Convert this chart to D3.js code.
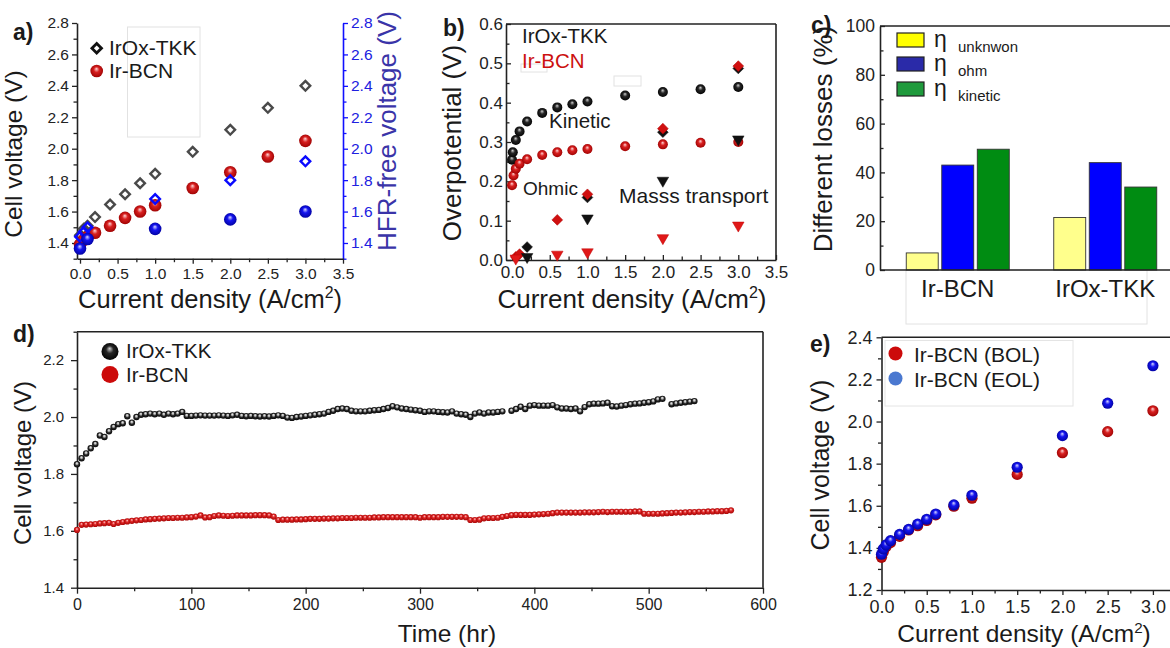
<!DOCTYPE html>
<html>
<head>
<meta charset="utf-8">
<script src="https://cdn.jsdelivr.net/npm/d3@7"></script>
<style>
  body { margin: 0; background: #fff; }
  svg { display: block; }
</style>
</head>
<body>
<svg id="fig" width="1170" height="648"></svg>
<script>
// ---- data: panel a (polarisation + HFR-free voltage)
const aIrOxTKK = [[0,1.45],[0.05,1.49],[0.1,1.51],[0.2,1.565],[0.4,1.645],[0.6,1.71],[0.8,1.78],[1.0,1.84],[1.5,1.98],[2.0,2.12],[2.5,2.26],[3.0,2.40]];
const aIrBCN = [[0,1.39],[0.05,1.42],[0.1,1.44],[0.2,1.465],[0.4,1.51],[0.6,1.56],[0.8,1.60],[1.0,1.64],[1.5,1.75],[2.0,1.85],[2.5,1.95],[3.0,2.05]];
const aIrOxHFR = [[0,1.44],[0.05,1.47],[0.1,1.50],[1.0,1.68],[2.0,1.80],[3.0,1.92]];
const aIrBCNHFR = [[0,1.365],[0.1,1.425],[1.0,1.49],[2.0,1.55],[3.0,1.60]];

// ---- data: panel b (overpotential breakdown)
const bIrOxKinetic = [[0,0.255],[0.01,0.274],[0.05,0.305],[0.1,0.327],[0.2,0.352],[0.4,0.374],[0.6,0.388],[0.8,0.396],[1.0,0.403],[1.5,0.418],[2.0,0.427],[2.5,0.434],[3.0,0.44]];
const bIrBCNKinetic = [[0,0.19],[0.02,0.215],[0.05,0.232],[0.1,0.245],[0.2,0.256],[0.4,0.267],[0.6,0.274],[0.8,0.279],[1.0,0.282],[1.5,0.289],[2.0,0.294],[2.5,0.298],[3.0,0.30]];
const bIrOxOhmic = [[0.2,0.033],[1.0,0.159],[2.0,0.325],[3.0,0.487]];
const bIrBCNOhmic = [[0.05,0.008],[0.1,0.015],[0.6,0.102],[1.0,0.167],[2.0,0.334],[3.0,0.493]];
const bIrOxMass = [[0.2,0.008],[1.0,0.106],[2.0,0.202],[3.0,0.307]];
const bIrBCNMass = [[0.05,0.004],[0.6,0.014],[1.0,0.02],[2.0,0.056],[3.0,0.088]];

// ---- data: panel c (loss contributions, %)
const lossGroups = ['Ir-BCN', 'IrOx-TKK'];
const lossKeys = ['unknwon', 'ohm', 'kinetic'];
const lossUnknown = [7, 21.5];
const lossOhm = [43, 44];
const lossKinetic = [49.5, 34];

// ---- data: panel d (stability, hours vs volts)
const dIrOxTKK = [[0,1.834],[4,1.855],[8,1.872],[12,1.89],[16,1.905],[20,1.935],[24,1.93],[28,1.95],[32,1.965],[36,1.975],[40,1.978],[44,2.003],[48,1.98],[52,2.0],[56,2.008],[60,2.01],[64,2.012],[68,2.01],[72,2.012],[76,2.008],[80,2.012],[84,2.01],[88,2.012],[92,2.018],[96,2.004],[100,2.004],[104,2.005],[108,2.006],[112,2.005],[116,2.005],[120,2.005],[124,2.006],[128,2.005],[132,2.004],[136,2.006],[140,2.008],[144,2.004],[148,2.003],[152,2.004],[156,2.003],[160,2.002],[164,2.003],[168,2.002],[172,2.004],[176,2.006],[180,2.004],[184,1.998],[188,1.997],[192,2.0],[196,2.002],[200,2.004],[204,2.006],[208,2.008],[212,2.01],[216,2.012],[220,2.018],[224,2.022],[228,2.028],[232,2.03],[236,2.028],[240,2.022],[244,2.02],[248,2.02],[252,2.02],[256,2.022],[260,2.024],[264,2.025],[268,2.028],[272,2.032],[276,2.038],[280,2.034],[284,2.03],[288,2.028],[292,2.026],[296,2.024],[300,2.022],[304,2.018],[308,2.02],[312,2.02],[316,2.018],[320,2.017],[324,2.016],[328,2.02],[332,2.012],[336,2.01],[340,2.008],[344,2.0],[348,2.012],[352,2.016],[356,2.012],[360,2.016],[364,2.016],[368,2.018],[372,2.02],[380,2.022],[384,2.028],[388,2.036],[392,2.028],[396,2.04],[400,2.042],[404,2.04],[408,2.04],[412,2.04],[416,2.042],[420,2.034],[424,2.03],[428,2.03],[432,2.028],[436,2.03],[440,2.02],[444,2.035],[448,2.045],[452,2.047],[456,2.047],[460,2.048],[464,2.05],[468,2.038],[472,2.037],[476,2.04],[480,2.042],[484,2.045],[488,2.047],[492,2.048],[496,2.05],[500,2.052],[504,2.055],[508,2.062],[512,2.064],[520,2.045],[524,2.048],[528,2.05],[532,2.052],[536,2.054],[540,2.056]];
const dIrBCN = [[0,1.603],[4,1.621],[8,1.622],[12,1.623],[16,1.624],[20,1.626],[24,1.627],[28,1.628],[32,1.624],[36,1.628],[40,1.631],[44,1.633],[48,1.635],[52,1.637],[56,1.638],[60,1.64],[64,1.641],[68,1.642],[72,1.643],[76,1.644],[80,1.645],[84,1.645],[88,1.646],[92,1.646],[96,1.647],[100,1.648],[104,1.65],[108,1.654],[112,1.647],[116,1.648],[120,1.652],[124,1.654],[128,1.653],[132,1.652],[136,1.653],[140,1.654],[144,1.654],[148,1.654],[152,1.654],[156,1.655],[160,1.655],[164,1.655],[168,1.654],[172,1.65],[176,1.638],[180,1.639],[184,1.639],[188,1.639],[192,1.64],[196,1.64],[200,1.641],[204,1.642],[208,1.642],[212,1.642],[216,1.643],[220,1.643],[224,1.644],[228,1.644],[232,1.645],[236,1.645],[240,1.645],[244,1.646],[248,1.646],[252,1.646],[256,1.646],[260,1.647],[264,1.647],[268,1.648],[272,1.648],[276,1.648],[280,1.648],[284,1.648],[288,1.648],[292,1.648],[296,1.648],[300,1.646],[304,1.648],[308,1.648],[312,1.648],[316,1.648],[320,1.649],[324,1.649],[328,1.649],[332,1.649],[336,1.649],[340,1.648],[344,1.638],[348,1.638],[352,1.639],[356,1.644],[360,1.645],[364,1.645],[368,1.646],[372,1.649],[376,1.652],[380,1.655],[384,1.656],[388,1.656],[392,1.656],[396,1.656],[400,1.657],[404,1.658],[408,1.659],[412,1.66],[416,1.662],[420,1.664],[424,1.664],[428,1.664],[432,1.664],[436,1.664],[440,1.664],[444,1.665],[448,1.665],[452,1.665],[456,1.666],[460,1.667],[464,1.666],[468,1.667],[472,1.667],[476,1.667],[480,1.667],[484,1.667],[488,1.668],[492,1.668],[496,1.66],[500,1.66],[504,1.66],[508,1.66],[512,1.661],[516,1.662],[520,1.663],[524,1.664],[528,1.664],[532,1.665],[536,1.666],[540,1.666],[544,1.667],[548,1.667],[552,1.668],[556,1.668],[560,1.669],[564,1.669],[568,1.67],[572,1.672]];

// ---- data: panel e (BOL vs EOL polarisation)
const eCurrent = [0, 0.02, 0.05, 0.1, 0.2, 0.3, 0.4, 0.5, 0.6, 0.8, 1.0, 1.5, 2.0, 2.5, 3.0];
const eBOL = [1.355, 1.38, 1.405, 1.425, 1.455, 1.485, 1.505, 1.53, 1.557, 1.598, 1.636, 1.749, 1.852, 1.952, 2.051];
const eEOL = [1.37, 1.395, 1.414, 1.434, 1.464, 1.488, 1.513, 1.536, 1.561, 1.604, 1.65, 1.783, 1.933, 2.087, 2.265];

const FONT = '"Liberation Sans", Arial, Helvetica, sans-serif';
const INK = '#1a1a1a';
const svg = d3.select('#fig');

// sphere-like markers
const defs = svg.append('defs');
function ballGrad(id, stops) {
  const g = defs.append('radialGradient').attr('id', id)
    .attr('cx', '50%').attr('cy', '50%').attr('r', '55%').attr('fx', '48%').attr('fy', '32%');
  stops.forEach(s => g.append('stop').attr('offset', s[0]).attr('stop-color', s[1]));
}
ballGrad('redBall', [['0%', '#ffd6d6'], ['40%', '#d82020'], ['100%', '#9a0000']]);
ballGrad('blueBall', [['0%', '#d8d8ff'], ['40%', '#1414f0'], ['100%', '#00009a']]);
ballGrad('blackBall', [['0%', '#d0d0d0'], ['40%', '#262626'], ['100%', '#000']]);
ballGrad('blackRing', [['0%', '#f4f4f4'], ['28%', '#b0b0b0'], ['55%', '#2a2a2a'], ['100%', '#000']]);
ballGrad('redRing', [['0%', '#ffd0d0'], ['40%', '#e02828'], ['100%', '#a00000']]);

function text(x, y, str, o = {}) {
  const t = svg.append('text').attr('x', x).attr('y', y).text(str)
    .style('font-family', FONT).style('font-size', (o.size || 20) + 'px')
    .attr('fill', o.color || INK).attr('text-anchor', o.anchor || 'start');
  if (o.bold) t.style('font-weight', 'bold');
  if (o.rotate) t.attr('transform', `rotate(-90 ${x} ${y})`);
  return t;
}
function currentTitle(x, y, size) {
  const t = svg.append('text').attr('x', x).attr('y', y).attr('text-anchor', 'middle')
    .style('font-family', FONT).style('font-size', size + 'px').attr('fill', INK);
  t.append('tspan').text('Current density (A/cm');
  t.append('tspan').text('2').attr('dy', -size * 0.38).style('font-size', (size * 0.62) + 'px');
  t.append('tspan').text(')').attr('dy', size * 0.38);
}
function line(x1, y1, x2, y2, color = '#222', w = 1.6) {
  svg.append('line').attr('x1', x1).attr('y1', y1).attr('x2', x2).attr('y2', y2)
    .attr('stroke', color).attr('stroke-width', w);
}
function faintBox(x, y, w, h) {
  svg.append('rect').attr('x', x).attr('y', y).attr('width', w).attr('height', h)
    .attr('fill', 'none').attr('stroke', '#e2e2e2').attr('stroke-width', 1);
}

const f1 = d3.format('.1f');
function drawAxis(type, scale, majors, minors, o) {
  const maker = {left: d3.axisLeft, right: d3.axisRight, bottom: d3.axisBottom}[type];
  const dir = o.inward ? -1 : 1;
  const g = svg.append('g').attr('transform', o.at);
  if (minors) {
    g.append('g').call(maker(scale).tickValues(minors).tickFormat('').tickSize(dir * (o.minor || 3.5)).tickSizeOuter(0))
      .select('.domain').remove();
  }
  g.append('g').call(maker(scale).tickValues(majors).tickFormat(o.format || f1)
    .tickSize(dir * (o.size || 6)).tickSizeOuter(0).tickPadding(o.pad || 3));
  const c = o.color || '#222';
  g.selectAll('.domain').attr('stroke', c).attr('stroke-width', 1.6);
  g.selectAll('.tick line').attr('stroke', c).attr('stroke-width', 1.3);
  g.selectAll('.tick text').attr('fill', o.textColor || c)
    .style('font-size', (o.fs || 16) + 'px').style('font-family', FONT);
  return g;
}

function balls(data, xs, ys, r, fill) {
  svg.append('g').selectAll('circle').data(data).join('circle')
    .attr('cx', d => xs(d[0])).attr('cy', d => ys(d[1])).attr('r', r)
    .attr('fill', fill);
}
function symbols(data, xs, ys, type, size, rot, fill, stroke, sw) {
  svg.append('g').selectAll('path').data(data).join('path')
    .attr('d', d3.symbol().type(type).size(size))
    .attr('transform', d => `translate(${xs(d[0])},${ys(d[1])}) rotate(${rot})`)
    .attr('fill', fill).attr('stroke', stroke).attr('stroke-width', sw);
}

// ================= panel a =================
const aX = d3.scaleLinear().domain([-0.04, 3.5]).range([77, 343]);
const aY = d3.scaleLinear().domain([1.3, 2.8]).range([258.7, 23]);
const aYTicks = [1.4, 1.6, 1.8, 2.0, 2.2, 2.4, 2.6, 2.8];
const aYMinor = [1.3, 1.5, 1.7, 1.9, 2.1, 2.3, 2.5, 2.7];
const curTicks = [0, 0.5, 1, 1.5, 2, 2.5, 3, 3.5];
const curMinor = [0.25, 0.75, 1.25, 1.75, 2.25, 2.75, 3.25];

faintBox(127.5, 27, 72.5, 110);
drawAxis('left', aY, aYTicks, aYMinor, {at: 'translate(77,0)', fs: 15.5, size: 5, pad: 3});
drawAxis('right', aY, aYTicks, aYMinor, {at: 'translate(343,0)', fs: 15.5, size: 5, pad: 3, color: '#1010ff', textColor: '#2020e0'});
drawAxis('bottom', aX, curTicks, curMinor, {at: 'translate(0,258.7)', fs: 15.5, size: 5, pad: 4});

symbols(aIrOxTKK, aX, aY, d3.symbolSquare, 46, 45, 'none', '#4a4a4a', 2.4);
balls(aIrBCN, aX, aY, 6.3, 'url(#redBall)');
symbols(aIrOxHFR, aX, aY, d3.symbolSquare, 46, 45, 'none', '#0a0aff', 2.4);
balls(aIrBCNHFR, aX, aY, 6.3, 'url(#blueBall)');

symbols([[0, 0]], () => 96.7, () => 48.3, d3.symbolSquare, 46, 45, 'none', '#111', 2.8);
svg.append('circle').attr('cx', 96.7).attr('cy', 71).attr('r', 6.3).attr('fill', 'url(#redBall)');
text(109, 55, 'IrOx-TKK', {size: 21});
text(109, 78, 'Ir-BCN', {size: 21});

text(13, 40, 'a)', {size: 23, bold: true});
text(22, 154, 'Cell voltage (V)', {size: 24.5, rotate: true, anchor: 'middle'});
text(396, 131, 'HFR-free voltage (V)', {size: 26, rotate: true, anchor: 'middle', color: '#3a34a8'});
currentTitle(210, 308, 25.5);

// ================= panel b =================
const bX = d3.scaleLinear().domain([-0.08, 3.5]).range([506, 776]);
const bY = d3.scaleLinear().domain([0, 0.6]).range([260, 24]);
drawAxis('left', bY, [0, 0.1, 0.2, 0.3, 0.4, 0.5, 0.6], [0.05, 0.15, 0.25, 0.35, 0.45, 0.55],
  {at: 'translate(506,0)', fs: 17, size: 5, pad: 3, inward: true});
drawAxis('bottom', bX, curTicks, curMinor, {at: 'translate(0,260)', fs: 17, size: 5, pad: 6, inward: true});
line(506, 24, 776, 24);
line(776, 24, 776, 260);

faintBox(521, 64, 26, 8);
faintBox(614, 76, 27, 10);

balls(bIrOxKinetic, bX, bY, 5, 'url(#blackBall)');
balls(bIrBCNKinetic, bX, bY, 5, 'url(#redBall)');
symbols(bIrOxOhmic, bX, bY, d3.symbolSquare, 58, 45, '#111', '#111', 0.5);
symbols(bIrBCNOhmic, bX, bY, d3.symbolSquare, 58, 45, '#d01010', '#b00000', 0.5);
symbols(bIrOxMass, bX, bY, d3.symbolTriangle, 58, 180, '#111', '#111', 0.5);
symbols(bIrBCNMass, bX, bY, d3.symbolTriangle, 58, 180, '#e01818', '#c00000', 0.5);

text(522, 43, 'IrOx-TKK', {size: 20.5});
text(522, 68, 'Ir-BCN', {size: 20.5, color: '#cc1010'});
text(549, 128, 'Kinetic', {size: 20.5});
text(523, 195, 'Ohmic', {size: 19});
text(619, 203, 'Masss transport', {size: 21});

text(443, 36, 'b)', {size: 23, bold: true});
text(461, 143, 'Overpotential (V)', {size: 26, rotate: true, anchor: 'middle'});
currentTitle(632, 308, 26);

// ================= panel c =================
const cX0 = d3.scaleBand().domain(lossGroups).range([884, 1179]);
const cX1 = d3.scaleBand().domain(lossKeys).range([0, 103]).paddingInner(0.1);
const cY = d3.scaleLinear().domain([0, 100]).range([270, 26]);
const lossValues = {unknwon: lossUnknown, ohm: lossOhm, kinetic: lossKinetic};
const barColor = {unknwon: '#ffff8c', ohm: '#0000ff', kinetic: '#008c12'};
const legColor = {unknwon: '#ffff00', ohm: '#2a2aa8', kinetic: '#1f9a3c'};
const bars = [];
lossGroups.forEach((g, gi) => lossKeys.forEach(k => bars.push({g, k, v: lossValues[k][gi]})));

faintBox(906, 270, 241, 54);
svg.append('g').selectAll('rect').data(bars).join('rect')
  .attr('x', d => cX0(d.g) + cX0.bandwidth() / 2 - 51.5 + cX1(d.k))
  .attr('width', cX1.bandwidth())
  .attr('y', d => cY(d.v)).attr('height', d => cY(0) - cY(d.v))
  .attr('fill', d => barColor[d.k]).attr('stroke', '#333').attr('stroke-width', 0.9);

drawAxis('left', cY, [0, 20, 40, 60, 80, 100], [10, 30, 50, 70, 90],
  {at: 'translate(880,0)', fs: 17.5, size: 5, pad: 5, inward: true, format: d3.format('d')});
line(880, 26, 1170, 26);
line(880, 270, 1170, 270);

lossGroups.forEach(g => text(cX0(g) + cX0.bandwidth() / 2, 297, g, {size: 24, anchor: 'middle'}));

const legY = [33, 57, 82];
lossKeys.forEach((k, i) => {
  svg.append('rect').attr('x', 897).attr('y', legY[i]).attr('width', 27).attr('height', 14)
    .attr('fill', legColor[k]).attr('stroke', '#222').attr('stroke-width', 1.2);
  text(934, legY[i] + 14, 'η', {size: 23});
  text(958, legY[i] + 19, k, {size: 15});
});

text(811, 33, 'c)', {size: 23, bold: true});
text(832, 139, 'Different losses (%)', {size: 26, rotate: true, anchor: 'middle'});

// ================= panel d =================
const dX = d3.scaleLinear().domain([0, 600]).range([77, 763]);
const dY = d3.scaleLinear().domain([1.4, 2.3]).range([587.7, 331.7]);
drawAxis('left', dY, [1.4, 1.6, 1.8, 2.0, 2.2], [1.5, 1.7, 1.9, 2.1, 2.3],
  {at: 'translate(77,0)', fs: 15, size: 6, pad: 7});
drawAxis('bottom', dX, [0, 100, 200, 300, 400, 500, 600], [50, 150, 250, 350, 450, 550],
  {at: 'translate(0,587.7)', fs: 16, size: 6, pad: 5, format: d3.format('d')});
line(77, 331.7, 763, 331.7);
line(763, 331.7, 763, 587.7);

balls(dIrOxTKK, dX, dY, 3.2, 'url(#blackRing)');
balls(dIrBCN, dX, dY, 3.1, 'url(#redRing)');

svg.append('circle').attr('cx', 110).attr('cy', 351.5).attr('r', 8.5).attr('fill', 'url(#blackBall)');
svg.append('circle').attr('cx', 110).attr('cy', 374.5).attr('r', 8.5).attr('fill', '#cc0a0a');
text(126, 358, 'IrOx-TKK', {size: 20.5});
text(126, 382, 'Ir-BCN', {size: 20.5});

text(13, 342, 'd)', {size: 23, bold: true});
text(31, 463, 'Cell voltage (V)', {size: 24, rotate: true, anchor: 'middle'});
text(447, 642, 'Time (hr)', {size: 24.5, anchor: 'middle'});

// ================= panel e =================
const eX = d3.scaleLinear().domain([0, 3.2]).range([881.5, 1171]);
const eY = d3.scaleLinear().domain([1.2, 2.4]).range([590, 337.3]);
drawAxis('left', eY, [1.2, 1.4, 1.6, 1.8, 2.0, 2.2, 2.4], [1.3, 1.5, 1.7, 1.9, 2.1, 2.3],
  {at: 'translate(881.5,0)', fs: 18, size: 5, pad: 4});
drawAxis('bottom', eX, [0, 0.5, 1, 1.5, 2, 2.5, 3], [0.25, 0.75, 1.25, 1.75, 2.25, 2.75],
  {at: 'translate(0,590)', fs: 18, size: 5, pad: 5});
line(881.5, 337.3, 1170, 337.3);

const eBOLPts = eCurrent.map((c, i) => [c, eBOL[i]]);
const eEOLPts = eCurrent.map((c, i) => [c, eEOL[i]]);
balls(eBOLPts, eX, eY, 5.6, 'url(#redBall)');
balls(eEOLPts, eX, eY, 5.6, 'url(#blueBall)');

svg.append('rect').attr('x', 885).attr('y', 340.5).attr('width', 188).attr('height', 65.5)
  .attr('fill', 'none').attr('stroke', '#e4e4e4').attr('stroke-width', 1);
svg.append('circle').attr('cx', 895.5).attr('cy', 353.5).attr('r', 7).attr('fill', '#cc0a0a');
svg.append('circle').attr('cx', 895.5).attr('cy', 378.5).attr('r', 7).attr('fill', '#4a78d0');
text(914, 362, 'Ir-BCN (BOL)', {size: 21});
text(914, 387, 'Ir-BCN (EOL)', {size: 21});

text(810, 352, 'e)', {size: 23, bold: true});
text(829, 465, 'Cell voltage (V)', {size: 25, rotate: true, anchor: 'middle'});
currentTitle(1024, 642, 24.5);
</script>
</body>
</html>
